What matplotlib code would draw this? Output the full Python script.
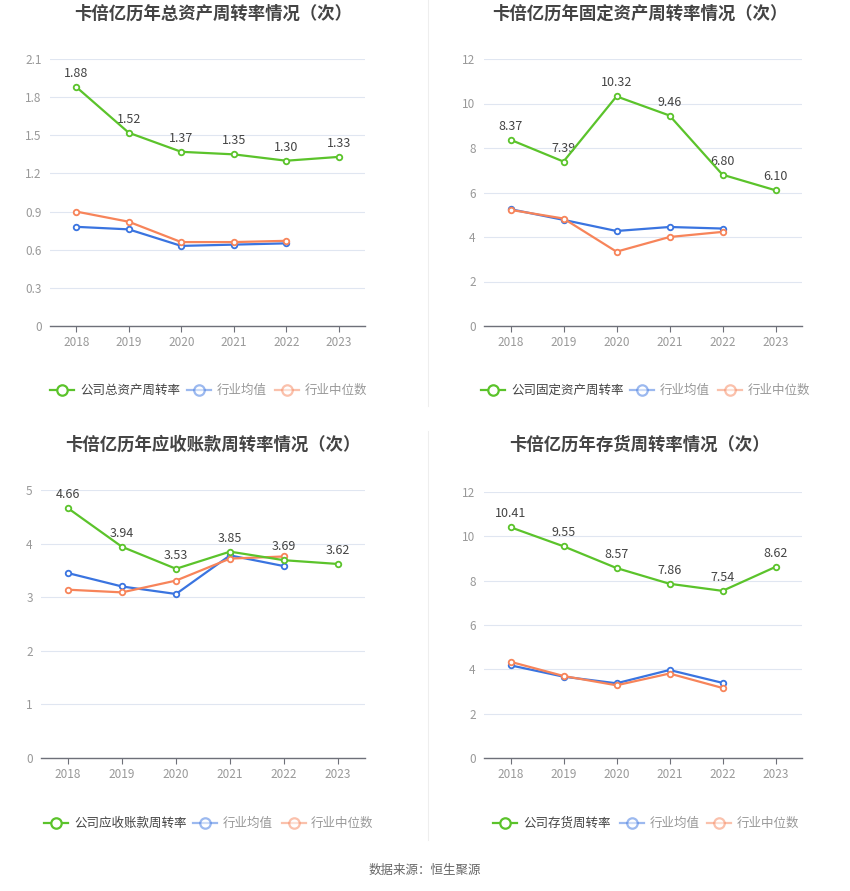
import matplotlib
matplotlib.use("Agg")
import matplotlib.pyplot as plt
from matplotlib.lines import Line2D

plt.rcParams['font.family'] = ['Noto Sans CJK SC', 'DejaVu Sans']

years = ["2018", "2019", "2020", "2021", "2022", "2023"]

titles = ["卡倍亿历年总资产周转率情况（次）", "卡倍亿历年固定资产周转率情况（次）",
          "卡倍亿历年应收账款周转率情况（次）", "卡倍亿历年存货周转率情况（次）"]
company_names = ["公司总资产周转率", "公司固定资产周转率", "公司应收账款周转率", "公司存货周转率"]

total_company = [1.88, 1.52, 1.37, 1.35, 1.30, 1.33]
total_avg = [0.78, 0.76, 0.63, 0.64, 0.65]
total_med = [0.90, 0.82, 0.66, 0.66, 0.67]

fixed_company = [8.37, 7.39, 10.32, 9.46, 6.80, 6.10]
fixed_avg = [5.25, 4.77, 4.27, 4.45, 4.38]
fixed_med = [5.22, 4.83, 3.34, 4.00, 4.23]

recv_company = [4.66, 3.94, 3.53, 3.85, 3.69, 3.62]
recv_avg = [3.45, 3.20, 3.06, 3.78, 3.58]
recv_med = [3.14, 3.09, 3.31, 3.72, 3.76]

inv_company = [10.41, 9.55, 8.57, 7.86, 7.54, 8.62]
inv_avg = [4.18, 3.67, 3.37, 3.97, 3.39]
inv_med = [4.34, 3.70, 3.28, 3.81, 3.16]

yticks_list = [[0, 0.3, 0.6, 0.9, 1.2, 1.5, 1.8, 2.1],
               [0, 2, 4, 6, 8, 10, 12],
               [0, 1, 2, 3, 4, 5],
               [0, 2, 4, 6, 8, 10, 12]]
ytick_labels_list = [["0", "0.3", "0.6", "0.9", "1.2", "1.5", "1.8", "2.1"],
                     ["0", "2", "4", "6", "8", "10", "12"],
                     ["0", "1", "2", "3", "4", "5"],
                     ["0", "2", "4", "6", "8", "10", "12"]]

series = [(total_company, total_avg, total_med),
          (fixed_company, fixed_avg, fixed_med),
          (recv_company, recv_avg, recv_med),
          (inv_company, inv_avg, inv_med)]

GREEN = "#5bc32b"
BLUE = "#3a74e0"
ORANGE = "#f7845a"
W, H = 850, 891

fig = plt.figure(figsize=(W / 100, H / 100), dpi=100)

def fx(x):
    return x / W

def fy(y):
    return 1 - y / H

rects = [(50, 59, 365, 326), (484, 59, 802, 326), (41, 490, 365, 758), (484, 492, 802, 758)]
title_pos = [(213, 14), (640, 14), (213, 445), (640, 445)]
legend_y = [390, 390, 823, 823]
legend_x = [(50, 80, 187, 217, 275, 305),
            (481, 511, 630, 660, 718, 748),
            (44, 74, 193, 223, 282, 311),
            (493, 523, 620, 650, 707, 737)]

for i in range(4):
    l, t, r, b = rects[i]
    ax = fig.add_axes([fx(l), fy(b), (r - l) / W, (b - t) / H])
    comp, avg, med = series[i]
    xs = list(range(len(years)))
    ax.plot(xs[:len(avg)], avg, color=BLUE, lw=1.6, marker='o', ms=4,
            mfc='white', mec=BLUE, mew=1.3, zorder=3)
    ax.plot(xs[:len(med)], med, color=ORANGE, lw=1.6, marker='o', ms=4,
            mfc='white', mec=ORANGE, mew=1.3, zorder=3)
    ax.plot(xs, comp, color=GREEN, lw=1.6, marker='o', ms=4,
            mfc='white', mec=GREEN, mew=1.3, zorder=4)
    for x, v in zip(xs, comp):
        ax.annotate(f"{v:.2f}", (x, v), xytext=(0, 5), textcoords='offset points',
                    ha='center', va='bottom', fontsize=9, color='#444444')
    yt = yticks_list[i]
    ax.set_ylim(yt[0], yt[-1])
    ax.set_xlim(-0.5, len(years) - 0.5)
    ax.set_yticks(yt)
    ax.set_yticklabels(ytick_labels_list[i])
    ax.set_xticks(xs)
    ax.set_xticklabels(years)
    ax.grid(axis='y', color='#e0e6f1', lw=0.8)
    ax.set_axisbelow(True)
    for s in ['top', 'right', 'left']:
        ax.spines[s].set_visible(False)
    ax.spines['bottom'].set_color('#6e7079')
    ax.spines['bottom'].set_linewidth(1.0)
    ax.tick_params(axis='y', length=0, labelsize=8.5, labelcolor='#999999', pad=6)
    ax.tick_params(axis='x', length=4, color='#6e7079', labelsize=8.5, labelcolor='#999999', pad=3)
    ax.set_facecolor('none')

    tx, ty = title_pos[i]
    fig.text(fx(tx), fy(ty), titles[i], ha='center', va='center', fontsize=12.5,
             fontweight='bold', color='#444444')

    # legend
    ly = fy(legend_y[i])
    ix1, tx1, ix2, tx2, ix3, tx3 = legend_x[i]
    items = [(ix1, tx1, GREEN, company_names[i], '#444444', 1.0),
             (ix2, tx2, BLUE, "行业均值", '#999999', 0.5),
             (ix3, tx3, ORANGE, "行业中位数", '#999999', 0.5)]
    for ix, txx, col, lab, tcol, alpha in items:
        fig.add_artist(Line2D([fx(ix), fx(ix + 24)], [ly, ly], color=col, lw=1.6, alpha=alpha))
        fig.add_artist(Line2D([fx(ix + 12)], [ly], color=col, marker='o', ms=7.5,
                              mfc='white', mec=col, mew=1.6, alpha=alpha))
        fig.text(fx(txx), ly, lab, ha='left', va='center', fontsize=9, color=tcol)

# dividers
fig.add_artist(Line2D([fx(427.5), fx(427.5)], [fy(0), fy(406)], color='#eeeeee', lw=0.8))
fig.add_artist(Line2D([fx(427.5), fx(427.5)], [fy(431), fy(840)], color='#eeeeee', lw=0.8))

fig.text(0.5, fy(870), "数据来源：恒生聚源", ha='center', va='center', fontsize=9, color='#666666')

fig.savefig("out.png", dpi=100, facecolor='white')
